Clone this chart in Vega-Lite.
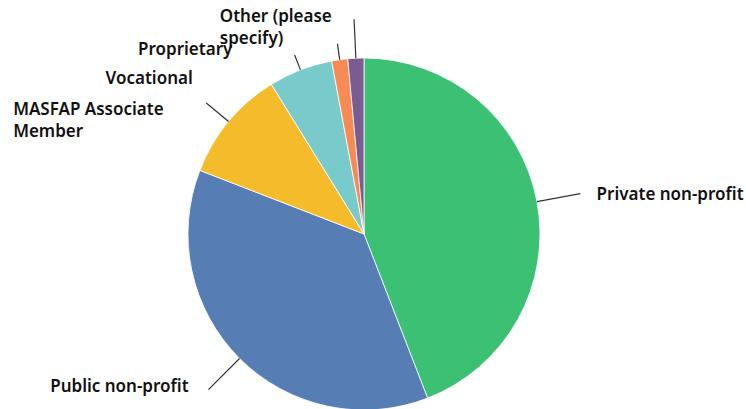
{
  "$schema": "https://vega.github.io/schema/vega-lite/v6.json",
  "width": 728,
  "height": 350,
  "autosize": {"type": "none"},
  "padding": {"left": 0, "top": 59, "right": 18, "bottom": 0},
  "background": "white",
  "config": {"view": {"stroke": null}, "text": {"font": "Noto Sans", "fontSize": 17, "fontWeight": 600, "color": "#111111", "lineHeight": 22, "baseline": "middle", "lineBreak": "\n"}},
  "data": {
    "values": [
      {"category": "Private non-profit", "label": "Private non-profit", "value": 30, "order": 1},
      {"category": "Public non-profit", "label": "Public non-profit", "value": 25, "order": 2},
      {"category": "MASFAP Associate Member", "label": "MASFAP Associate\nMember", "value": 7, "order": 3},
      {"category": "Vocational", "label": "Vocational", "value": 4, "order": 4},
      {"category": "Proprietary", "label": "Proprietary", "value": 1, "order": 5},
      {"category": "Other (please specify)", "label": "Other (please\nspecify)", "value": 1, "order": 6}
    ]
  },
  "encoding": {
    "theta": {"field": "value", "type": "quantitative", "stack": true},
    "order": {"field": "order", "type": "quantitative", "sort": "ascending"}
  },
  "layer": [
    {
      "mark": {"type": "arc", "radius": 176, "stroke": "white", "strokeWidth": 0.8},
      "encoding": {
        "color": {
          "field": "category",
          "type": "nominal",
          "legend": null,
          "scale": {
            "domain": ["Private non-profit", "Public non-profit", "MASFAP Associate Member", "Vocational", "Proprietary", "Other (please specify)"],
            "range": ["#3cc073", "#567db4", "#f4bb2b", "#79cacb", "#f88a55", "#7a5b92"]
          }
        }
      }
    },
    {
      "mark": {"type": "arc", "radius": 220, "radius2": 176, "padAngle": 3.1, "fill": null, "stroke": "#333333", "strokeWidth": 1.2},
      "encoding": {"strokeOpacity": {"condition": {"test": "datum.category === 'Private non-profit' || datum.category === 'Public non-profit'", "value": 1}, "value": 0}}
    },
    {
      "mark": {"type": "arc", "radius": 205, "radius2": 176, "padAngle": 3.1, "fill": null, "stroke": "#333333", "strokeWidth": 1.2},
      "encoding": {"strokeOpacity": {"condition": {"test": "datum.category === 'MASFAP Associate Member'", "value": 1}, "value": 0}}
    },
    {
      "mark": {"type": "arc", "radius": 192, "radius2": 176, "padAngle": 3.1, "fill": null, "stroke": "#333333", "strokeWidth": 1.2},
      "encoding": {"strokeOpacity": {"condition": {"test": "datum.category === 'Vocational' || datum.category === 'Proprietary'", "value": 1}, "value": 0}}
    },
    {
      "mark": {"type": "arc", "radius": 215, "radius2": 176, "padAngle": 3.1, "fill": null, "stroke": "#333333", "strokeWidth": 1.2},
      "encoding": {"strokeOpacity": {"condition": {"test": "datum.category === 'Other (please specify)'", "value": 1}, "value": 0}}
    },
    {
      "mark": {"type": "text", "radius": 200, "align": "left", "dx": 36, "dy": -2},
      "encoding": {"text": {"condition": {"test": "datum.category === 'Private non-profit'", "field": "label"}, "value": ""}}
    },
    {
      "mark": {"type": "text", "radius": 200, "align": "right", "dx": -34, "dy": 12},
      "encoding": {"text": {"condition": {"test": "datum.category === 'Public non-profit'", "field": "label"}, "value": ""}}
    },
    {
      "mark": {"type": "text", "radius": 200, "align": "left", "dx": -197, "dy": 4},
      "encoding": {"text": {"condition": {"test": "datum.category === 'MASFAP Associate Member'", "field": "label"}, "value": ""}}
    },
    {
      "mark": {"type": "text", "radius": 200, "align": "right", "dx": -99, "dy": 31},
      "encoding": {"text": {"condition": {"test": "datum.category === 'Vocational'", "field": "label"}, "value": ""}}
    },
    {
      "mark": {"type": "text", "radius": 200, "align": "right", "dx": -104, "dy": 14},
      "encoding": {"text": {"condition": {"test": "datum.category === 'Proprietary'", "field": "label"}, "value": ""}}
    },
    {
      "mark": {"type": "text", "radius": 200, "align": "left", "dx": -135, "dy": -17},
      "encoding": {"text": {"condition": {"test": "datum.category === 'Other (please specify)'", "field": "label"}, "value": ""}}
    }
  ]
}
